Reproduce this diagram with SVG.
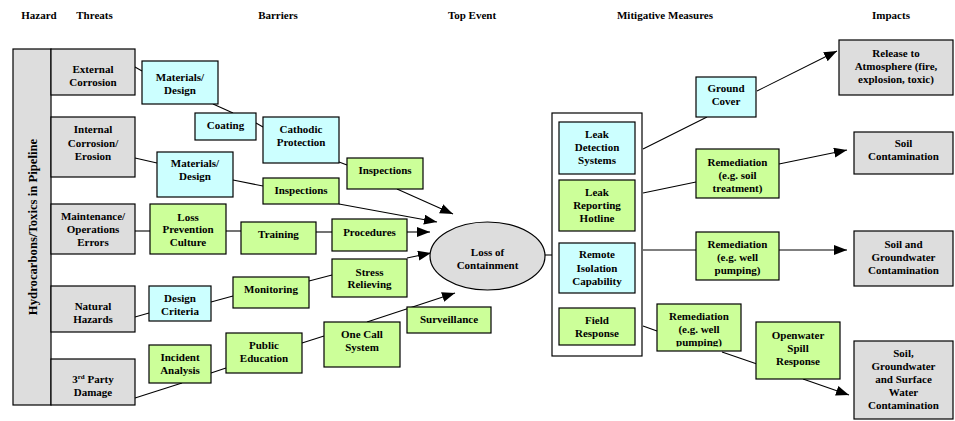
<svg xmlns="http://www.w3.org/2000/svg" width="955" height="421" viewBox="0 0 955 421">
<style>
text{font-family:"Liberation Serif","Times New Roman",serif;font-weight:bold;font-size:11px;fill:#000;text-anchor:middle}
.hdr{font-size:11px}
.g{fill:#dddddd;stroke:#000;stroke-width:1.2}
.c{fill:#ccffff;stroke:#000;stroke-width:1.2}
.v{fill:#ccff99;stroke:#000;stroke-width:1.2}
.w{fill:#fff;stroke:#000;stroke-width:1.2}
#connectors line{stroke:#000;stroke-width:1.1}
.ar{marker-end:url(#ah)}
</style>
<defs>
<marker id="ah" markerUnits="userSpaceOnUse" markerWidth="14" markerHeight="11" refX="13" refY="5" orient="auto">
<path d="M0,0 L13,5 L0,10 z" fill="#000"/>
</marker>
<clipPath id="clipRem2"><rect x="657" y="304" width="84" height="42.5"/></clipPath>
</defs>
<rect width="955" height="421" fill="#fff"/>
<g id="headers">
<text class="hdr" x="39" y="19">Hazard</text>
<text class="hdr" x="94.5" y="19">Threats</text>
<text class="hdr" x="278" y="19">Barriers</text>
<text class="hdr" x="472" y="19">Top Event</text>
<text class="hdr" x="665" y="19">Mitigative Measures</text>
<text class="hdr" x="891" y="19">Impacts</text>
</g>
<g id="connectors">
<line x1="135" y1="67" x2="142" y2="71"/>
<line x1="213" y1="104" x2="233" y2="113"/>
<line x1="256" y1="123" x2="263" y2="127"/>
<line x1="339" y1="162" x2="347" y2="165"/>
<line x1="135" y1="158" x2="157" y2="163"/>
<line x1="233" y1="180" x2="263" y2="186"/>
<line x1="135" y1="231" x2="150" y2="231"/>
<line x1="226" y1="231" x2="241" y2="231"/>
<line x1="316" y1="232" x2="332" y2="232"/>
<line x1="135" y1="317" x2="149" y2="313"/>
<line x1="211" y1="302" x2="233" y2="296"/>
<line x1="309" y1="281" x2="332" y2="275"/>
<line x1="135" y1="398" x2="182" y2="383"/>
<line x1="211" y1="373" x2="226" y2="368"/>
<line x1="302" y1="343" x2="324" y2="336"/>
<line x1="545" y1="255" x2="552" y2="255"/>
<line x1="643" y1="149" x2="707" y2="117"/>
<line x1="643" y1="193" x2="696" y2="182"/>
<line x1="643" y1="250" x2="696" y2="250"/>
<line x1="643" y1="326" x2="657" y2="331"/>
<line x1="722" y1="352" x2="757" y2="364"/>
<line class="ar" x1="397" y1="189" x2="453" y2="214"/>
<line class="ar" x1="339" y1="204" x2="437" y2="222"/>
<line class="ar" x1="407" y1="232" x2="430" y2="232"/>
<line class="ar" x1="407" y1="258" x2="431" y2="253"/>
<line class="ar" x1="367" y1="322" x2="455" y2="293"/>
<line class="ar" x1="757" y1="91" x2="837" y2="51"/>
<line class="ar" x1="779" y1="164" x2="847" y2="150"/>
<line class="ar" x1="779" y1="250" x2="847" y2="250"/>
<line class="ar" x1="803" y1="379" x2="849" y2="395"/>
</g>
<g id="hazard">
<rect class="g" x="13" y="49" width="38" height="356"/>
<text x="0" y="0" font-size="12.7" transform="translate(36.5,227) rotate(-90)" style="font-size:12.7px">Hydrocarbons/Toxics in Pipeline</text>
</g>
<g id="threat-external">
<rect class="g" x="51" y="49" width="84" height="46"/>
<text x="93" y="73">External</text><text x="93" y="86">Corrosion</text>
</g>
<g id="threat-internal">
<rect class="g" x="51" y="117" width="84" height="60"/>
<text x="93" y="133">Internal</text><text x="93" y="147">Corrosion/</text><text x="93" y="160">Erosion</text>
</g>
<g id="threat-maintenance">
<rect class="g" x="51" y="204" width="84" height="50"/>
<text x="93" y="220">Maintenance/</text><text x="93" y="233">Operations</text><text x="93" y="246">Errors</text>
</g>
<g id="threat-natural">
<rect class="g" x="51" y="286" width="84" height="46"/>
<text x="93" y="310">Natural</text><text x="93" y="323">Hazards</text>
</g>
<g id="threat-3rdparty">
<rect class="g" x="51" y="359" width="84" height="46"/>
<text x="93" y="383">3<tspan dy="-4" style="font-size:7px">rd</tspan><tspan dy="4"> Party</tspan></text><text x="93" y="396">Damage</text>
</g>
<g id="b-materials1">
<rect class="c" x="142" y="61" width="76" height="43"/>
<text x="180" y="81">Materials/</text><text x="180" y="94">Design</text>
</g>
<g id="b-coating">
<rect class="c" x="195" y="113" width="61" height="27"/>
<text x="225.5" y="129">Coating</text>
</g>
<g id="b-cathodic">
<rect class="c" x="263" y="117" width="76" height="46"/>
<text x="301" y="133">Cathodic</text><text x="301" y="146">Protection</text>
</g>
<g id="b-inspections1">
<rect class="v" x="347" y="158" width="76" height="31"/>
<text x="385" y="174">Inspections</text>
</g>
<g id="b-materials2">
<rect class="c" x="157" y="152" width="76" height="45"/>
<text x="195" y="167">Materials/</text><text x="195" y="180">Design</text>
</g>
<g id="b-inspections2">
<rect class="v" x="263" y="178" width="76" height="26"/>
<text x="301" y="194">Inspections</text>
</g>
<g id="b-lossprevention">
<rect class="v" x="150" y="204" width="76" height="50"/>
<text x="188" y="221">Loss</text><text x="188" y="233">Prevention</text><text x="188" y="246">Culture</text>
</g>
<g id="b-training">
<rect class="v" x="241" y="222" width="75" height="32"/>
<text x="278.5" y="238">Training</text>
</g>
<g id="b-procedures">
<rect class="v" x="332" y="219" width="75" height="32"/>
<text x="369.5" y="236">Procedures</text>
</g>
<g id="b-stress">
<rect class="v" x="332" y="259" width="75" height="38"/>
<text x="369.5" y="276">Stress</text><text x="369.5" y="288">Relieving</text>
</g>
<g id="b-monitoring">
<rect class="v" x="233" y="277" width="76" height="31"/>
<text x="271" y="293">Monitoring</text>
</g>
<g id="b-designcriteria">
<rect class="c" x="149" y="286" width="62" height="35"/>
<text x="180" y="302">Design</text><text x="180" y="315">Criteria</text>
</g>
<g id="b-incident">
<rect class="v" x="149" y="345" width="62" height="38"/>
<text x="180" y="361">Incident</text><text x="180" y="374">Analysis</text>
</g>
<g id="b-public">
<rect class="v" x="226" y="333" width="76" height="40"/>
<text x="264" y="349">Public</text><text x="264" y="362">Education</text>
</g>
<g id="b-onecall">
<rect class="v" x="324" y="322" width="76" height="45"/>
<text x="362" y="338">One Call</text><text x="362" y="351">System</text>
</g>
<g id="b-surveillance">
<rect class="v" x="407" y="307" width="84" height="26"/>
<text x="449" y="323">Surveillance</text>
</g>
<g id="top-event">
<ellipse class="g" cx="487.5" cy="256" rx="57.5" ry="34"/>
<text x="487.5" y="256">Loss of</text><text x="487.5" y="269">Containment</text>
</g>
<g id="mitigative">
<rect class="w" x="552" y="113" width="90" height="243"/>
</g>
<g id="m-leakdetection">
<rect class="c" x="559" y="122" width="76" height="52"/>
<text x="597" y="138">Leak</text><text x="597" y="151">Detection</text><text x="597" y="164">Systems</text>
</g>
<g id="m-leakreporting">
<rect class="v" x="559" y="180" width="76" height="51"/>
<text x="597" y="196">Leak</text><text x="597" y="209">Reporting</text><text x="597" y="222">Hotline</text>
</g>
<g id="m-remote">
<rect class="c" x="559" y="243" width="76" height="50"/>
<text x="597" y="258">Remote</text><text x="597" y="272">Isolation</text><text x="597" y="285">Capability</text>
</g>
<g id="m-field">
<rect class="v" x="559" y="308" width="76" height="37"/>
<text x="597" y="324">Field</text><text x="597" y="337">Response</text>
</g>
<g id="m-groundcover">
<rect class="c" x="696" y="77" width="60" height="40"/>
<text x="726" y="92">Ground</text><text x="726" y="105">Cover</text>
</g>
<g id="m-remediation-soil">
<rect class="v" x="696" y="149" width="83" height="49"/>
<text x="737.5" y="166">Remediation</text><text x="737.5" y="179">(e.g. soil</text><text x="737.5" y="192">treatment)</text>
</g>
<g id="m-remediation-well1">
<rect class="v" x="696" y="232" width="83" height="48"/>
<text x="737.5" y="248">Remediation</text><text x="737.5" y="261">(e.g. well</text><text x="737.5" y="274">pumping)</text>
</g>
<g id="m-remediation-well2">
<rect class="v" x="657" y="304" width="84" height="47"/>
<g clip-path="url(#clipRem2)">
<text x="699" y="320">Remediation</text><text x="699" y="333">(e.g. well</text><text x="699" y="346">pumping)</text>
</g>
</g>
<g id="m-openwater">
<rect class="v" x="756" y="322" width="84" height="57"/>
<text x="798" y="339">Openwater</text><text x="798" y="352">Spill</text><text x="798" y="365">Response</text>
</g>
<g id="i-release">
<rect class="g" x="839" y="40" width="114" height="55"/>
<text x="896" y="57">Release to</text><text x="896" y="70">Atmosphere (fire,</text><text x="896" y="83">explosion, toxic)</text>
</g>
<g id="i-soil">
<rect class="g" x="854" y="132" width="99" height="42"/>
<text x="903.5" y="147">Soil</text><text x="903.5" y="160">Contamination</text>
</g>
<g id="i-soilgw">
<rect class="g" x="854" y="231" width="99" height="55"/>
<text x="903.5" y="248">Soil and</text><text x="903.5" y="261">Groundwater</text><text x="903.5" y="274">Contamination</text>
</g>
<g id="i-soilgwsw">
<rect class="g" x="854" y="341" width="99" height="78"/>
<text x="903.5" y="357">Soil,</text><text x="903.5" y="370">Groundwater</text><text x="903.5" y="383">and Surface</text><text x="903.5" y="396">Water</text><text x="903.5" y="409">Contamination</text>
</g>
</svg>
